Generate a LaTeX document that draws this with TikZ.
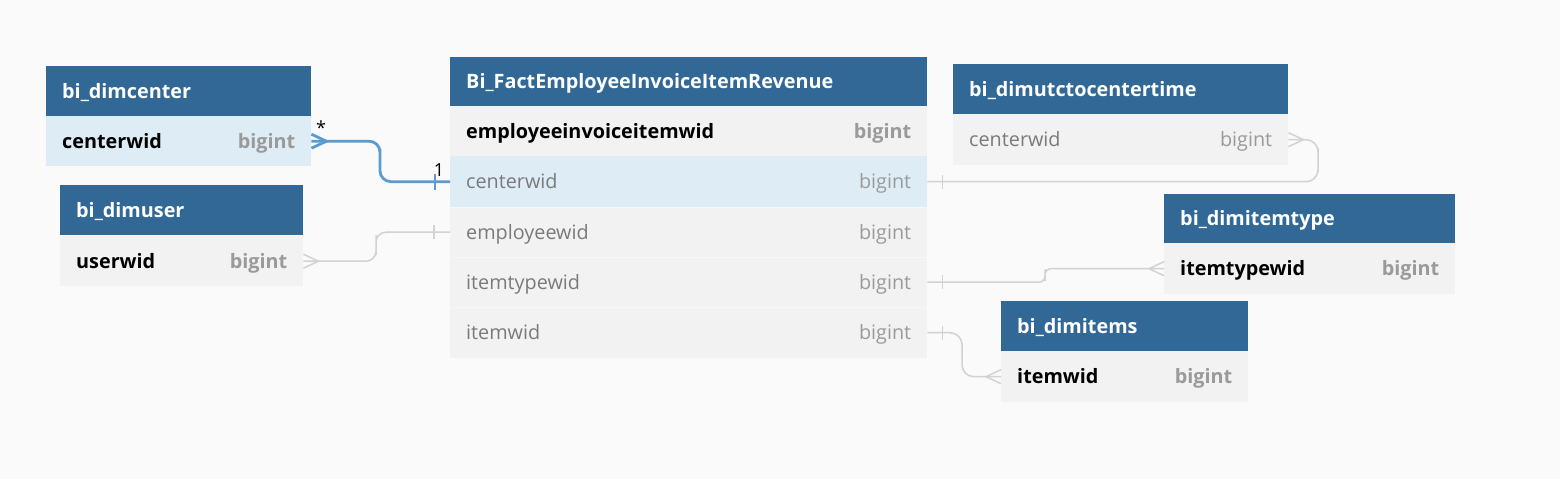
\documentclass[tikz,border=0pt]{standalone}
\usepackage{fontspec}
\setmainfont{Open Sans}
\usetikzlibrary{calc}
\definecolor{bgc}{HTML}{FAFAFA}
\definecolor{hdr}{HTML}{326895}
\definecolor{rowg}{HTML}{F2F2F2}
\definecolor{rowb}{HTML}{DEEDF5}
\definecolor{sep}{HTML}{F7F7F7}
\definecolor{typec}{HTML}{9A9A9A}
\definecolor{namec}{HTML}{7A7A7A}
\definecolor{linkb}{HTML}{5B9BD0}
\definecolor{linkg}{HTML}{D2D2D2}
\tikzset{
  hdrbox/.style={fill=hdr, draw=none, anchor=north west, inner sep=0pt, minimum height=50},
  rowbox/.style={fill=rowg, draw=none, anchor=north west, inner sep=0pt, minimum height=50},
  hl/.style={fill=rowb},
  hdrtext/.style={text=white, font=\fontsize{19.8}{22}\selectfont\bfseries, anchor=base west, inner sep=0pt},
  keytext/.style={text=black, font=\fontsize{19.8}{22}\selectfont\bfseries, anchor=base west, inner sep=0pt},
  keytype/.style={text=typec, font=\fontsize{19.8}{22}\selectfont\bfseries, anchor=base east, inner sep=0pt},
  fldtext/.style={text=namec, font=\fontsize{19.8}{22}\selectfont, anchor=base west, inner sep=0pt},
  fldtype/.style={text=typec, font=\fontsize{19.8}{22}\selectfont, anchor=base east, inner sep=0pt},
  lblue/.style={draw=linkb, line width=2.8pt},
  lgray/.style={draw=linkg, line width=1.5pt},
  rowsep/.style={draw=sep, line width=0.8pt},
  card/.style={font=\fontsize{18}{20}\selectfont, text=black, inner sep=0pt}
}
\begin{document}
\begin{tikzpicture}[x=1pt,y=-1pt]
\fill[bgc] (0,0) rectangle (1560,479);
\useasboundingbox (0,0) rectangle (1560,479);

% ---- bi_dimcenter
\node[hdrbox, minimum width=265] (ch) at (46,66) {};
\node[hdrtext] (cht) at ($(ch.west)+(16,7)$) {bi\_dimcenter};
\node[rowbox, hl, minimum width=265] (cr1) at (46,116) {};
\node[keytext] (cr1n) at ($(cr1.west)+(16,7)$) {centerwid};
\node[keytype] (cr1t) at ($(cr1.east)+(-16,7)$) {bigint};

% ---- bi_dimuser
\node[hdrbox, minimum width=243] (uh) at (60,185) {};
\node[hdrtext] (uht) at ($(uh.west)+(16,7)$) {bi\_dimuser};
\node[rowbox, minimum width=243] (ur1) at (60,236) {};
\node[keytext] (ur1n) at ($(ur1.west)+(16,7)$) {userwid};
\node[keytype] (ur1t) at ($(ur1.east)+(-16,7)$) {bigint};

% ---- Fact table
\node[hdrbox, minimum width=477, minimum height=49] (fh) at (450,57) {};
\node[hdrtext] (fht) at ($(fh.west)+(16,7)$) {Bi\_FactEmployeeInvoiceItemRevenue};
\node[rowbox, minimum width=477] (fr1) at (450,106) {};
\node[keytext] (fr1n) at ($(fr1.west)+(16,7)$) {employeeinvoiceitemwid};
\node[keytype] (fr1t) at ($(fr1.east)+(-16,7)$) {bigint};
\node[rowbox, hl, minimum width=477, minimum height=51] (fr2) at (450,156) {};
\node[fldtext] (fr2n) at ($(fr2.west)+(16,7)$) {centerwid};
\node[fldtype] (fr2t) at ($(fr2.east)+(-16,7)$) {bigint};
\node[rowbox, minimum width=477] (fr3) at (450,207) {};
\node[fldtext] (fr3n) at ($(fr3.west)+(16,7)$) {employeewid};
\node[fldtype] (fr3t) at ($(fr3.east)+(-16,7)$) {bigint};
\node[rowbox, minimum width=477] (fr4) at (450,257) {};
\node[fldtext] (fr4n) at ($(fr4.west)+(16,7)$) {itemtypewid};
\node[fldtype] (fr4t) at ($(fr4.east)+(-16,7)$) {bigint};
\node[rowbox, minimum width=477, minimum height=51] (fr5) at (450,307) {};
\node[fldtext] (fr5n) at ($(fr5.west)+(16,7)$) {itemwid};
\node[fldtype] (fr5t) at ($(fr5.east)+(-16,7)$) {bigint};
\draw[rowsep] (fr3.north west) -- (fr3.north east);
\draw[rowsep] (fr4.north west) -- (fr4.north east);
\draw[rowsep] (fr5.north west) -- (fr5.north east);

% ---- bi_dimutctocentertime
\node[hdrbox, minimum width=335] (th) at (953,64) {};
\node[hdrtext] (tht) at ($(th.west)+(16,7)$) {bi\_dimutctocentertime};
\node[rowbox, minimum width=335, minimum height=51] (tr1) at (953,114) {};
\node[fldtext] (tr1n) at ($(tr1.west)+(16,7)$) {centerwid};
\node[fldtype] (tr1t) at ($(tr1.east)+(-16,7)$) {bigint};

% ---- bi_dimitemtype
\node[hdrbox, minimum width=291, minimum height=49] (yh) at (1164,194) {};
\node[hdrtext] (yht) at ($(yh.west)+(16,7)$) {bi\_dimitemtype};
\node[rowbox, minimum width=291, minimum height=51] (yr1) at (1164,243) {};
\node[keytext] (yr1n) at ($(yr1.west)+(16,7)$) {itemtypewid};
\node[keytype] (yr1t) at ($(yr1.east)+(-16,7)$) {bigint};

% ---- bi_dimitems
\node[hdrbox, minimum width=247] (ih) at (1001,301) {};
\node[hdrtext] (iht) at ($(ih.west)+(16,7)$) {bi\_dimitems};
\node[rowbox, minimum width=247, minimum height=51] (ir1) at (1001,351) {};
\node[keytext] (ir1n) at ($(ir1.west)+(16,7)$) {itemwid};
\node[keytype] (ir1t) at ($(ir1.east)+(-16,7)$) {bigint};

% ---- coordinates for bends
\coordinate (bA) at (380,160);
\coordinate (bB) at (376,245);
\coordinate (bC) at (1318,160);
\coordinate (bD) at (1045,275);
\coordinate (bE) at (962,355);

% ---- blue connector: dimcenter -> fact.centerwid
\draw[lblue, rounded corners=11] (cr1.east) -| (bA) |- (fr2.west);
\draw[lblue] ($(cr1.east)+(0,-7)$) -- ($(cr1.east)+(15,0)$) -- ($(cr1.east)+(0,7)$);
\draw[lblue] ($(fr2.west)+(-15,-8)$) -- ($(fr2.west)+(-15,8)$);
\node[card] (lstar) at (321,128) {*};
\node[card] (lone) at (439,170) {1};

% ---- gray: dimuser -> fact.employeewid
\draw[lgray, rounded corners=10] (ur1.east) -| (bB) |- (fr3.west);
\draw[lgray] ($(ur1.east)+(0,-7)$) -- ($(ur1.east)+(15,0)$) -- ($(ur1.east)+(0,7)$);
\draw[lgray] ($(fr3.west)+(-16,-7)$) -- ($(fr3.west)+(-16,7)$);

% ---- gray: fact.centerwid -> utc.centerwid
\draw[lgray, rounded corners=12] (fr2.east) -| (bC) |- (tr1.east);
\draw[lgray] ($(tr1.east)+(0,-7)$) -- ($(tr1.east)+(15,0)$) -- ($(tr1.east)+(0,7)$);
\draw[lgray] ($(fr2.east)+(15,-7)$) -- ($(fr2.east)+(15,7)$);

% ---- gray: fact.itemtypewid -> itemtype
\draw[lgray, rounded corners=6] (fr4.east) -| (bD) |- (yr1.west);
\draw[lgray] ($(yr1.west)+(0,-7)$) -- ($(yr1.west)+(-15,0)$) -- ($(yr1.west)+(0,7)$);
\draw[lgray] ($(fr4.east)+(15,-7)$) -- ($(fr4.east)+(15,7)$);

% ---- gray: fact.itemwid -> items
\draw[lgray, rounded corners=12] (fr5.east) -| (bE) |- (ir1.west);
\draw[lgray] ($(ir1.west)+(0,-7)$) -- ($(ir1.west)+(-15,0)$) -- ($(ir1.west)+(0,7)$);
\draw[lgray] ($(fr5.east)+(15,-7)$) -- ($(fr5.east)+(15,7)$);
\end{tikzpicture}
\end{document}
